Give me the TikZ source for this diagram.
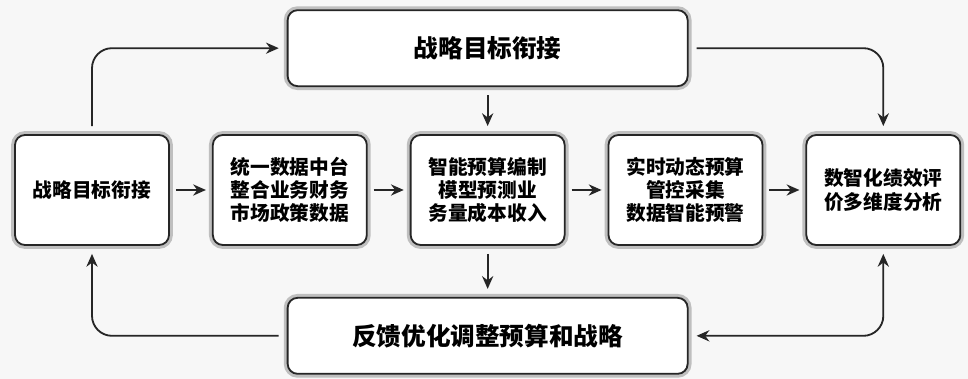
\documentclass[tikz,border=0pt]{standalone}
\usepackage{fontspec}
\newfontfamily\cjk{Noto Sans CJK SC}[BoldFont={Noto Sans CJK SC Black}]
\usepackage{xcolor}
\usepackage{tikz}
\usetikzlibrary{arrows.meta,positioning}

\begin{document}
\begin{tikzpicture}[
  node distance=11.75mm and 10.5mm,
  box/.style={draw=black!85, line width=1.3pt, rounded corners=2.5mm, fill=white, align=center,
    minimum width=38.5mm, minimum height=27.5mm, font=\cjk\bfseries\fontsize{14}{16.5}\selectfont,
    preaction={draw=black!25, line width=5.5pt}},
  widebox/.style={box, minimum width=100mm, minimum height=19mm, font=\cjk\bfseries\fontsize{17.5}{20}\selectfont},
  line/.style={-{Stealth[length=3.2mm, width=2.8mm]}, line width=1.3pt, draw=black!85, shorten >=2mm, shorten <=2mm},
  shortline/.style={line, shorten >=1.5mm, shorten <=1.5mm},
  backline/.style={line, rounded corners=5mm}
]
\useasboundingbox (-2.3,-4.725) rectangle (21.9,4.75);
\fill[black!3] (-2.3,-4.725) rectangle (21.9,4.75);

\node[box] (goal) {战略目标衔接};
\node[box, right=of goal] (data) {统一数据中台\\整合业务财务\\市场政策数据};
\node[box, right=of data] (budget) {智能预算编制\\模型预测业\\务量成本收入};
\node[box, right=of budget] (control) {实时动态预算\\管控采集\\数据智能预警};
\node[box, right=of control] (eval) {数智化绩效评\\价多维度分析};
\node[widebox, above=11.75mm of budget] (strategy) {战略目标衔接};
\node[widebox, below=12.75mm of budget] (feedback) {反馈优化调整预算和战略};

\draw[shortline] (goal) -- (data);
\draw[shortline] (data) -- (budget);
\draw[shortline] (budget) -- (control);
\draw[shortline] (control) -- (eval);
\draw[line] (strategy) -- (budget);
\draw[line] (budget) -- (feedback);
\draw[backline] (goal.north) |- (strategy.west);
\draw[backline] (strategy.east) -| (eval.north);
\draw[backline] (feedback.west) -| (goal.south);
\draw[backline, {Stealth[length=3.2mm, width=2.8mm]}-{Stealth[length=3.2mm, width=2.8mm]}] (eval.south) |- (feedback.east);
\end{tikzpicture}
\end{document}
